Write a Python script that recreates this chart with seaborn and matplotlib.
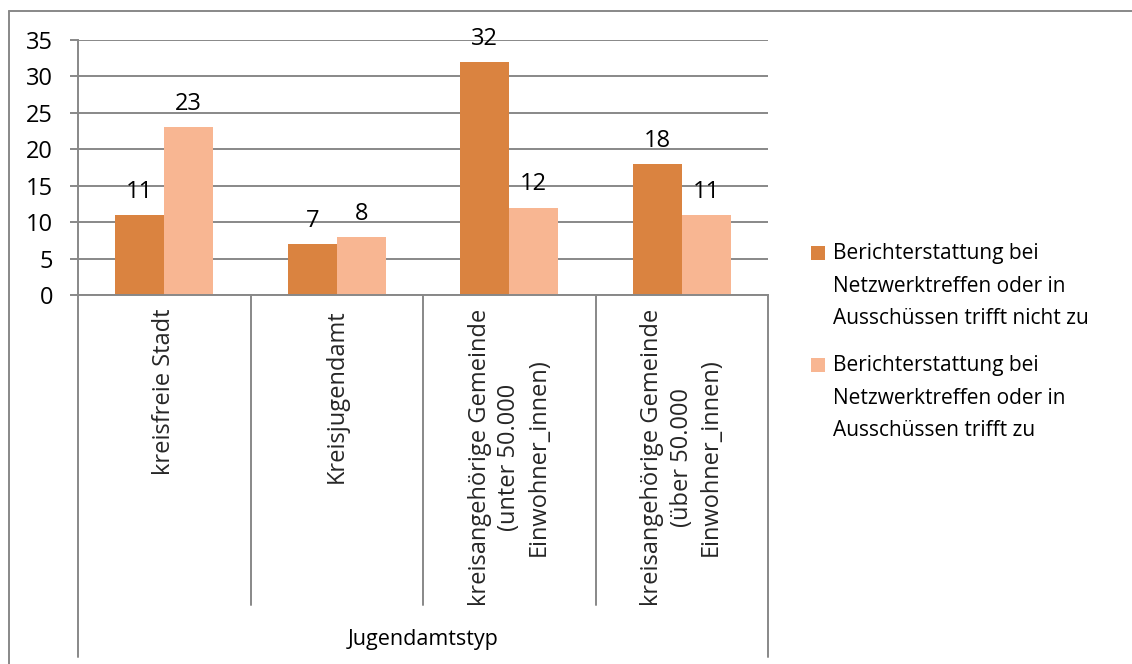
import matplotlib
matplotlib.use("Agg")
import matplotlib.pyplot as plt
from matplotlib.lines import Line2D
from matplotlib.patches import Rectangle
import matplotlib.transforms as mtransforms
import seaborn as sns
import pandas as pd

# ---- data ----
categories = [
    "kreisfreie Stadt",
    "Kreisjugendamt",
    "kreisangehörige Gemeinde\n(unter 50.000\nEinwohner_innen)",
    "kreisangehörige Gemeinde\n(über 50.000\nEinwohner_innen)",
]
series_names = [
    "Berichterstattung bei\nNetzwerktreffen oder in\nAusschüssen trifft nicht zu",
    "Berichterstattung bei\nNetzwerktreffen oder in\nAusschüssen trifft zu",
]
values_nicht_zu = [11, 7, 32, 18]
values_zu = [23, 8, 12, 11]
axis_title = "Jugendamtstyp"
y_ticks = [0, 5, 10, 15, 20, 25, 30, 35]

colors = ["#DA8340", "#F8B692"]
gray = "#888888"

df = pd.DataFrame({
    "Kategorie": categories * 2,
    "Serie": [series_names[0]] * 4 + [series_names[1]] * 4,
    "Wert": values_nicht_zu + values_zu,
})

sns.set_theme(style="white")
plt.rcParams["font.family"] = ["Open Sans", "DejaVu Sans"]
FS = 17
FS_LEG = 15

W, H = 1132, 664
fig = plt.figure(figsize=(W / 100, H / 100), dpi=100)

x0, x1 = 78, 768
ytop, ybot = 40, 295
ax = fig.add_axes([x0 / W, 1 - ybot / H, (x1 - x0) / W, (ybot - ytop) / H])

sns.barplot(data=df, x="Kategorie", y="Wert", hue="Serie", order=categories,
            hue_order=series_names, palette=colors, width=0.566,
            saturation=1, ax=ax, legend=False, edgecolor="none", linewidth=0)

ax.set_ylim(0, 35)
ax.set_xlim(-0.5, 3.5)
ax.set_yticks(y_ticks)
ax.set_yticklabels([str(t) for t in y_ticks], fontsize=FS, color="black")
ax.yaxis.grid(True, color=gray, linewidth=1.4)
ax.set_axisbelow(True)
ax.tick_params(axis="y", length=6, width=1.4, color=gray, pad=12, left=True)
ax.tick_params(axis="x", length=0, pad=10)
ax.set_xticks(range(len(categories)))
ax.set_xticklabels(categories, rotation=90, fontsize=FS, va="top", ha="center",
                   multialignment="center", linespacing=1.3)
ax.set_xlabel("")
ax.set_ylabel("")
for s in ["top", "right"]:
    ax.spines[s].set_visible(False)
for s in ["left", "bottom"]:
    ax.spines[s].set_color(gray)
    ax.spines[s].set_linewidth(1.4)

for cont in ax.containers:
    ax.bar_label(cont, padding=8, fontsize=FS, color="black")

# category separators below axis
trans = mtransforms.blended_transform_factory(ax.transData, ax.transAxes)
h_ax = ybot - ytop
y_sep = -(605 - ybot) / h_ax
y_out = -(657 - ybot) / h_ax
for b in [0.5, 1.5, 2.5]:
    ax.add_line(Line2D([b, b], [0, y_sep], transform=trans, color=gray,
                       lw=1.4, clip_on=False))
for b in [-0.5, 3.5]:
    ax.add_line(Line2D([b, b], [0, y_out], transform=trans, color=gray,
                       lw=1.4, clip_on=False))
ax.text(1.5, -(640 - ybot) / h_ax, axis_title, transform=trans, ha="center",
        va="center", fontsize=15.5, color="black")

# legend (manual, with squares aligned to first line)
leg_y = [253, 365]
for i, name in enumerate(series_names):
    fig.add_artist(Rectangle((811 / W, 1 - (leg_y[i] + 7) / H), 14 / W, 14 / H,
                             transform=fig.transFigure, color=colors[i], lw=0))
    fig.text(833 / W, 1 - (leg_y[i] - 10) / H, name, ha="left", va="top",
             fontsize=FS_LEG, linespacing=1.72, color="black")

# outer border
fig.add_artist(Line2D([8.5 / W, 8.5 / W], [0, 1 - 10.5 / H], transform=fig.transFigure,
                      color=gray, lw=1.4))
fig.add_artist(Line2D([8.5 / W, 1], [1 - 10.5 / H, 1 - 10.5 / H], transform=fig.transFigure,
                      color=gray, lw=1.4))

fig.savefig("out.png", dpi=100, facecolor="white")
